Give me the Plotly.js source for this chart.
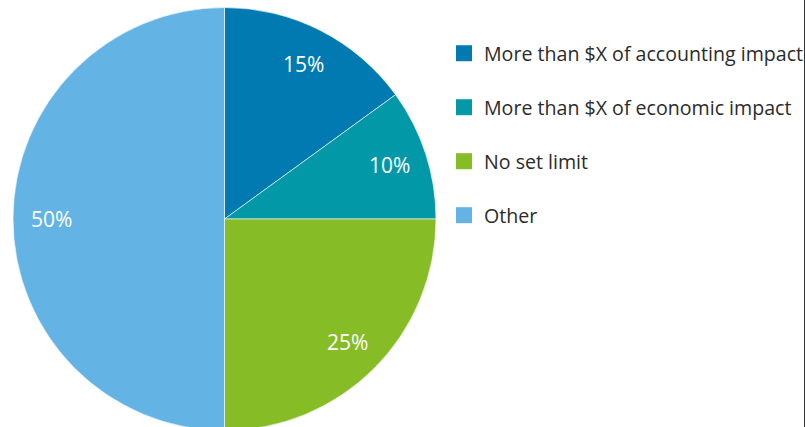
<!DOCTYPE html>
<html>
<head>
<meta charset="utf-8">
<script src="https://cdn.plot.ly/plotly-3.0.1.min.js"></script>
<style>
html,body{margin:0;padding:0;overflow:hidden;background:#fff;}
#chart{width:805px;height:434px;}
</style>
</head>
<body>
<div id="chart"></div>
<script>
const categories = [
  "More than $X of accounting impact",
  "More than $X of economic impact",
  "No set limit",
  "Other"
];
const shares = [15, 10, 25, 50];
const colors = ["#007AB0", "#0398A8", "#86BC25", "#63B4E4"];

const fontFam = "'Open Sans', sans-serif";

const W = 805, H = 434;
const cx = 224.5, cy = 219, R = 211.5;

const traces = [{
  type: "pie",
  labels: categories,
  values: shares,
  sort: false,
  direction: "clockwise",
  rotation: 0,
  marker: {colors: colors, line: {color: "#ffffff", width: 0.6}},
  textinfo: "none",
  showlegend: false,
  domain: {x: [(cx - R)/W, (cx + R)/W], y: [1 - (cy + R)/H, 1 - (cy - R)/H]},
  hoverinfo: "label+percent"
}];

categories.forEach((c, i) => {
  traces.push({
    type: "scatter",
    mode: "markers",
    x: [null], y: [null],
    name: c,
    legendgroup: "g" + i,
    marker: {symbol: "square", size: 17, color: colors[i]},
    hoverinfo: "skip"
  });
});

// percentage labels placed along each slice's bisector, derived from the values
const total = shares.reduce((a, b) => a + b, 0);
const annotations = [];
let cum = 0;
shares.forEach((v) => {
  const mid = (cum + v / 2) / total;
  cum += v;
  const th = 2 * Math.PI * mid;
  const rr = 0.82 * R;
  const px = cx + rr * Math.sin(th);
  const py = cy - rr * Math.cos(th);
  annotations.push({
    xref: "paper", yref: "paper",
    x: px / W, y: 1 - py / H,
    xanchor: "center", yanchor: "middle",
    text: Math.round(v / total * 100) + "%",
    showarrow: false,
    font: {family: fontFam, size: 21, color: "#ffffff"}
  });
});

const layout = {
  width: W,
  height: H,
  margin: {l: 0, r: 0, t: 0, b: 0, autoexpand: false},
  paper_bgcolor: "#ffffff",
  plot_bgcolor: "#ffffff",
  xaxis: {visible: false},
  yaxis: {visible: false},
  showlegend: true,
  legend: {
    x: 444/W, xanchor: "left",
    y: 1 - 34/H, yanchor: "top",
    traceorder: "grouped",
    tracegroupgap: 25.5,
    font: {family: fontFam, size: 19.6, color: "#2b2b2b"},
    bgcolor: "rgba(0,0,0,0)",
    itemclick: false
  },
  annotations: annotations,
  shapes: [{
    type: "line", xref: "paper", yref: "paper",
    x0: 804.5/W, x1: 804.5/W, y0: 0, y1: 1,
    line: {color: "#333333", width: 1}
  }]
};

Plotly.newPlot("chart", traces, layout, {displayModeBar: false, staticPlot: true});
</script>
</body>
</html>
